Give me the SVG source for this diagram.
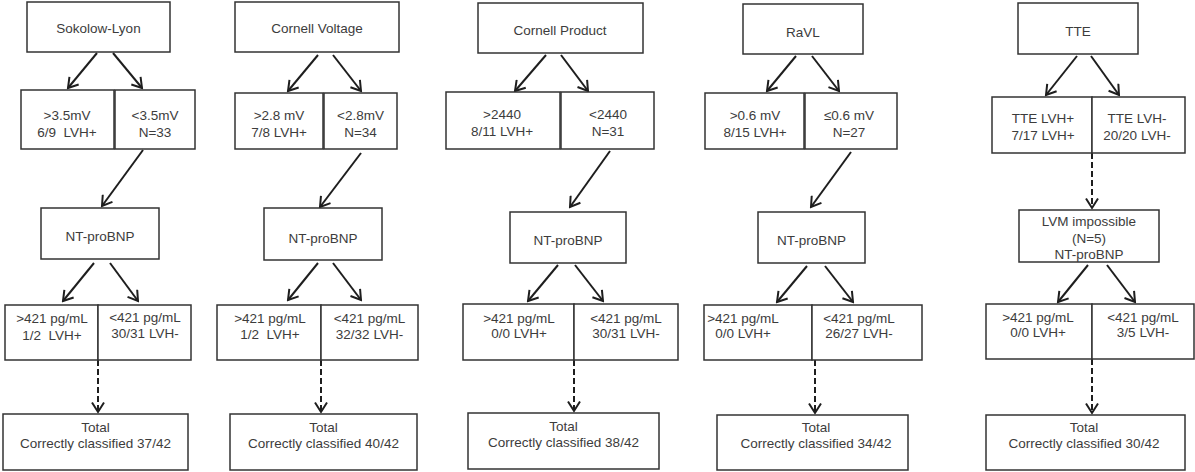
<svg xmlns="http://www.w3.org/2000/svg" width="1195" height="472" viewBox="0 0 1195 472">
<style>
.b{fill:#fff;stroke:#333;stroke-width:1.5}
.t{font-family:"Liberation Sans",Arial,sans-serif;font-size:13.5px;fill:#3c3c3c;text-anchor:middle;white-space:pre}
.a{stroke:#1e1e1e;stroke-width:2;fill:none;marker-end:url(#ah)}
.d{stroke:#1e1e1e;stroke-width:2;fill:none;stroke-dasharray:6 3;marker-end:url(#ah)}
</style>
<defs>
<marker id="ah" viewBox="-11 -7 13 14" refX="0" refY="0" markerWidth="13" markerHeight="14" markerUnits="userSpaceOnUse" orient="auto">
<path d="M-9.5,-6 L0,0 L-9.5,6" fill="none" stroke="#1e1e1e" stroke-width="2"/>
</marker>
</defs>
<rect width="1195" height="472" fill="#fff"/>
<g id="connectors">
<line class="a" x1="97" y1="53" x2="68" y2="88"/>
<line class="a" x1="113" y1="53" x2="142" y2="88"/>
<line class="a" x1="143" y1="150" x2="102" y2="206"/>
<line class="a" x1="94" y1="263" x2="63" y2="301"/>
<line class="a" x1="110" y1="263" x2="138" y2="301"/>
<line class="d" x1="98" y1="360" x2="98" y2="412"/>

<line class="a" x1="318" y1="55" x2="288" y2="91"/>
<line class="a" x1="333" y1="55" x2="361" y2="91"/>
<line class="a" x1="361" y1="153" x2="320" y2="207"/>
<line class="a" x1="318" y1="263" x2="288" y2="300"/>
<line class="a" x1="333" y1="263" x2="361" y2="300"/>
<line class="d" x1="321" y1="360" x2="321" y2="412"/>

<line class="a" x1="546" y1="55" x2="515" y2="91"/>
<line class="a" x1="561" y1="55" x2="588" y2="91"/>
<line class="a" x1="610" y1="151" x2="570" y2="207"/>
<line class="a" x1="558" y1="265" x2="528" y2="301"/>
<line class="a" x1="575" y1="265" x2="603" y2="301"/>
<line class="d" x1="574" y1="360" x2="574" y2="411"/>

<line class="a" x1="796" y1="56" x2="767" y2="91"/>
<line class="a" x1="812" y1="56" x2="839" y2="91"/>
<line class="a" x1="851" y1="152" x2="811" y2="207"/>
<line class="a" x1="807" y1="266" x2="777" y2="302"/>
<line class="a" x1="825" y1="266" x2="853" y2="302"/>
<line class="d" x1="815" y1="360" x2="815" y2="413"/>

<line class="a" x1="1077" y1="56" x2="1046" y2="95"/>
<line class="a" x1="1091" y1="56" x2="1119" y2="95"/>
<line class="d" x1="1092" y1="153" x2="1092" y2="208"/>
<line class="a" x1="1088" y1="265" x2="1058" y2="302"/>
<line class="a" x1="1107" y1="265" x2="1135" y2="302"/>
<line class="d" x1="1092" y1="359" x2="1092" y2="413"/>
</g>

<g id="sokolow-top"><rect class="b" x="27" y="2" width="143" height="50"/><text class="t" x="98.5" y="32.5">Sokolow-Lyon</text></g>
<g id="sokolow-hi"><rect class="b" x="21" y="90" width="93" height="59"/><text class="t" x="67" y="119.5">&gt;3.5mV</text><text class="t" x="67" y="136.5">6/9  LVH+</text></g>
<g id="sokolow-lo"><rect class="b" x="115" y="90" width="80" height="59"/><text class="t" x="155" y="119.5">&lt;3.5mV</text><text class="t" x="155" y="136.5">N=33</text></g>
<g id="sokolow-nt"><rect class="b" x="41" y="208" width="118" height="51"/><text class="t" x="100" y="241">NT-proBNP</text></g>
<g id="sokolow-nt-hi"><rect class="b" x="5" y="305" width="93" height="55"/><text class="t" x="52" y="322.5">&gt;421 pg/mL</text><text class="t" x="52" y="339.5">1/2  LVH+</text></g>
<g id="sokolow-nt-lo"><rect class="b" x="98" y="305" width="93" height="55"/><text class="t" x="145" y="322">&lt;421 pg/mL</text><text class="t" x="145" y="338">30/31 LVH-</text></g>
<g id="sokolow-total"><rect class="b" x="3" y="414" width="185" height="56"/><text class="t" x="95.5" y="431.5">Total</text><text class="t" x="95.5" y="447.5">Correctly classified 37/42</text></g>

<g id="cv-top"><rect class="b" x="235" y="2" width="164" height="50"/><text class="t" x="317" y="32.5">Cornell Voltage</text></g>
<g id="cv-hi"><rect class="b" x="235" y="93" width="88" height="56"/><text class="t" x="279" y="119.5">&gt;2.8 mV</text><text class="t" x="279" y="136.5">7/8 LVH+</text></g>
<g id="cv-lo"><rect class="b" x="324" y="93" width="73" height="56"/><text class="t" x="360.5" y="119.5">&lt;2.8mV</text><text class="t" x="360.5" y="136.5">N=34</text></g>
<g id="cv-nt"><rect class="b" x="264" y="208" width="118" height="52"/><text class="t" x="323" y="242.5">NT-proBNP</text></g>
<g id="cv-nt-hi"><rect class="b" x="217" y="305" width="104" height="55"/><text class="t" x="270" y="322.5">&gt;421 pg/mL</text><text class="t" x="270" y="338.5">1/2  LVH+</text></g>
<g id="cv-nt-lo"><rect class="b" x="321" y="305" width="97" height="55"/><text class="t" x="369.5" y="322.5">&lt;421 pg/mL</text><text class="t" x="369.5" y="338.5">32/32 LVH-</text></g>
<g id="cv-total"><rect class="b" x="230" y="414" width="187" height="56"/><text class="t" x="323.5" y="431.5">Total</text><text class="t" x="323.5" y="447.5">Correctly classified 40/42</text></g>

<g id="cp-top"><rect class="b" x="478" y="3" width="165" height="50"/><text class="t" x="560" y="34.5">Cornell Product</text></g>
<g id="cp-hi"><rect class="b" x="446" y="92" width="114" height="57"/><text class="t" x="502" y="119">&gt;2440</text><text class="t" x="502" y="136">8/11 LVH+</text></g>
<g id="cp-lo"><rect class="b" x="561" y="92" width="93" height="57"/><text class="t" x="608" y="119">&lt;2440</text><text class="t" x="608" y="136">N=31</text></g>
<g id="cp-nt"><rect class="b" x="510" y="212" width="116" height="51"/><text class="t" x="568" y="244.5">NT-proBNP</text></g>
<g id="cp-nt-hi"><rect class="b" x="463" y="304" width="111" height="56"/><text class="t" x="519" y="322.5">&gt;421 pg/mL</text><text class="t" x="519" y="337.5">0/0 LVH+</text></g>
<g id="cp-nt-lo"><rect class="b" x="574" y="304" width="104" height="56"/><text class="t" x="626" y="322.5">&lt;421 pg/mL</text><text class="t" x="626" y="337.5">30/31 LVH-</text></g>
<g id="cp-total"><rect class="b" x="468" y="413" width="191" height="56"/><text class="t" x="563.5" y="431">Total</text><text class="t" x="563.5" y="447">Correctly classified 38/42</text></g>

<g id="ravl-top"><rect class="b" x="743" y="4" width="120" height="50"/><text class="t" x="803" y="36.5">RaVL</text></g>
<g id="ravl-hi"><rect class="b" x="705" y="93" width="99" height="56"/><text class="t" x="755" y="119.5">&gt;0.6 mV</text><text class="t" x="755" y="136.5">8/15 LVH+</text></g>
<g id="ravl-lo"><rect class="b" x="805" y="93" width="92" height="56"/><text class="t" x="849" y="119.5">≤0.6 mV</text><text class="t" x="849" y="136.5">N=27</text></g>
<g id="ravl-nt"><rect class="b" x="758" y="212" width="107" height="51"/><text class="t" x="811.5" y="244.5">NT-proBNP</text></g>
<g id="ravl-nt-hi"><rect class="b" x="704" y="305" width="108" height="55"/><text class="t" x="743" y="322.5">&gt;421 pg/mL</text><text class="t" x="743" y="338">0/0 LVH+</text></g>
<g id="ravl-nt-lo"><rect class="b" x="812" y="305" width="110" height="55"/><text class="t" x="859" y="322.5">&lt;421 pg/mL</text><text class="t" x="859" y="338">26/27 LVH-</text></g>
<g id="ravl-total"><rect class="b" x="717" y="415" width="191" height="55"/><text class="t" x="816" y="432">Total</text><text class="t" x="816" y="448">Correctly classified 34/42</text></g>

<g id="tte-top"><rect class="b" x="1018" y="3" width="120" height="51"/><text class="t" x="1078" y="36">TTE</text></g>
<g id="tte-pos"><rect class="b" x="992" y="97" width="100" height="56"/><text class="t" x="1043" y="122.5">TTE LVH+</text><text class="t" x="1043" y="139.5">7/17 LVH+</text></g>
<g id="tte-neg"><rect class="b" x="1092" y="97" width="93" height="56"/><text class="t" x="1137" y="122.5">TTE LVH-</text><text class="t" x="1137" y="139.5">20/20 LVH-</text></g>
<g id="tte-lvm"><rect class="b" x="1019" y="210" width="140" height="52"/><text class="t" x="1089" y="225.5">LVM impossible</text><text class="t" x="1089" y="242.5">(N=5)</text><text class="t" x="1089" y="259">NT-proBNP</text></g>
<g id="tte-nt-hi"><rect class="b" x="986" y="304" width="106" height="55"/><text class="t" x="1038" y="322">&gt;421 pg/mL</text><text class="t" x="1038" y="337">0/0 LVH+</text></g>
<g id="tte-nt-lo"><rect class="b" x="1092" y="304" width="102" height="55"/><text class="t" x="1143" y="322">&lt;421 pg/mL</text><text class="t" x="1143" y="337">3/5 LVH-</text></g>
<g id="tte-total"><rect class="b" x="986" y="415" width="199" height="55"/><text class="t" x="1084" y="431.5">Total</text><text class="t" x="1084" y="447.5">Correctly classified 30/42</text></g>
</svg>
